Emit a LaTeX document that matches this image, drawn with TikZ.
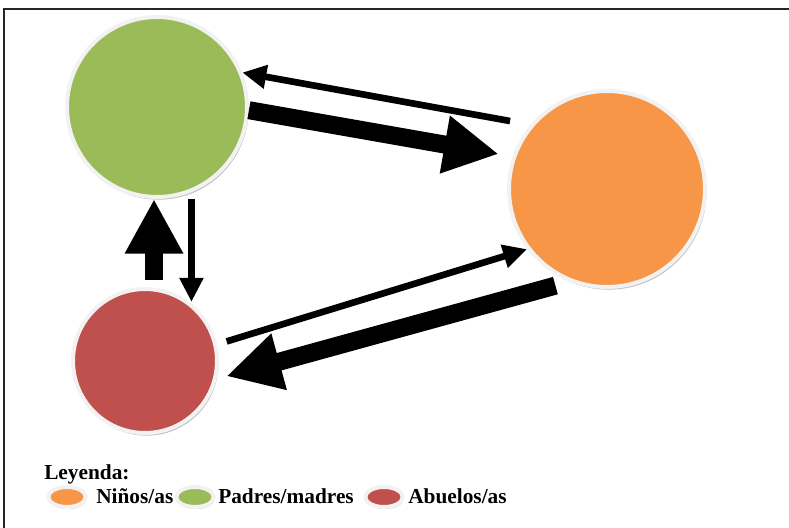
\documentclass[tikz,border=0pt]{standalone}
\usepackage{fontspec}
\setmainfont{Liberation Serif}
\usetikzlibrary{arrows.meta,shadows,shapes.geometric,positioning}
\definecolor{ninos}{HTML}{F79646}
\definecolor{padres}{HTML}{9BBB59}
\definecolor{abuelos}{HTML}{C0504D}
\begin{document}
\begin{tikzpicture}[x=0.75pt,y=-0.75pt,font=\bfseries\fontsize{16}{19}\selectfont]
    \tikzstyle{bub}=[circle,draw=white!95!black,line width=3pt,drop shadow={shadow xshift=1.2pt,shadow yshift=-2pt,opacity=0.45,fill=black!55}]
    \tikzstyle{thickarr}=[line width=13.5pt,-{Triangle[width=41pt,length=41pt]}]
    \tikzstyle{thinarr}=[line width=5pt,-{Triangle[width=17pt,length=18pt]}]
    \tikzstyle{legdot}=[ellipse,draw=white!95!black,line width=3pt,inner sep=0pt,minimum width=28pt,minimum height=15pt,drop shadow={shadow xshift=0.6pt,shadow yshift=-1.5pt,opacity=0.45,fill=black!55}]
    \tikzstyle{legtxt}=[anchor=base west,inner sep=0pt]
    \useasboundingbox (0,0) rectangle (789,528);
    \draw[line width=1.2pt,black!85] (4,528) -- (4,9) -- (789,9);

    \node[bub, fill=padres, minimum size=135pt] (padres) at (157,107) {};
    \node[bub, fill=ninos, minimum size=147pt] (ninos) at (607,189) {};
    \node[bub, fill=abuelos, minimum size=108pt] (abuelos) at (145,361) {};

    \draw[thinarr, shorten <=15.5pt] (ninos.140) -- (padres.22);
    \draw[thickarr, shorten >=10.5pt] (padres.-2) -- (ninos.161);
    \draw[thinarr, shorten <=7.5pt] (abuelos.13) -- (ninos.-143);
    \draw[thickarr, shorten <=11pt, shorten >=7.5pt] (ninos.-112) -- (abuelos.-14);
    \draw[thickarr, shorten <=5.7pt] (abuelos.83) -- (abuelos.83 |- padres.south);
    \draw[thinarr, shorten <=5pt] (padres.-68) -- (padres.-68 |- abuelos.53);

    % legend
    \node[legtxt] (leyenda) at (44,479) {Leyenda:};
    \node[legdot, fill=ninos] (legninos) at (67,497) {};
    \node[legtxt] (txtninos) at (96,503) {Niños/as};
    \node[legdot, fill=padres] (legpadres) at (195,497) {};
    \node[legtxt] (txtpadres) at (218,503) {Padres/madres};
    \node[legdot, fill=abuelos] (legabuelos) at (384,497) {};
    \node[legtxt] (txtabuelos) at (408,503) {Abuelos/as};
\end{tikzpicture}
\end{document}
